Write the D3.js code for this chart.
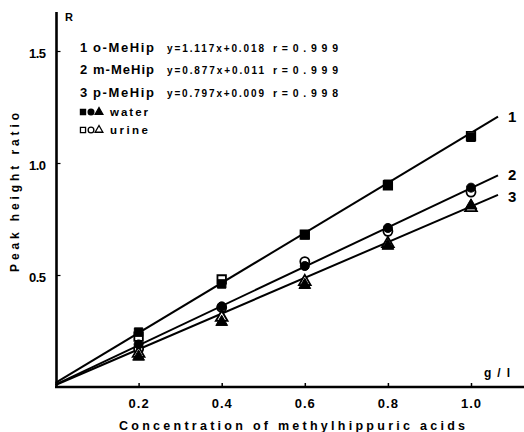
<!DOCTYPE html>
<html><head><meta charset="utf-8">
<script src="https://cdn.jsdelivr.net/npm/d3@7"></script>
<style>
html,body{margin:0;padding:0;background:#fff;}
svg{display:block;font-family:"Liberation Sans",Arial,sans-serif;font-weight:bold;}
</style></head>
<body><svg id="c" width="524" height="432"></svg>
<script>
// ---- data ----
const concentrations = [0.2, 0.4, 0.6, 0.8, 1.0];
const oWater = [0.245, 0.46, 0.68, 0.905, 1.115];
const oUrine = [0.225, 0.48, 0.68, 0.90, 1.12];
const mWater = [0.19, 0.36, 0.54, 0.71, 0.89];
const mUrine = [0.17, 0.355, 0.56, 0.695, 0.87];
const pWater = [0.135, 0.29, 0.455, 0.63, 0.81];
const pUrine = [0.15, 0.31, 0.47, 0.64, 0.80];
const fitStartY = [0.018, 0.011, 0.009];
const fitEndY = [1.207, 0.945, 0.858];
const fitX = [0, 1.065];
const lineLabels = ["1", "2", "3"];
const compounds = ["o-MeHip", "m-MeHip", "p-MeHip"];
const equations = ["y=1.117x+0.018", "y=0.877x+0.011", "y=0.797x+0.009"];
const rValues = ["r=0.999", "r=0.999", "r=0.998"];
const xTicks = [0.2, 0.4, 0.6, 0.8, 1.0];
const yTicks = [0.5, 1.0, 1.5];

const svg = d3.select("#c");
const x = d3.scaleLinear().domain([0, 1]).range([55.5, 471]);
const y = d3.scaleLinear().domain([0, 1.5]).range([387, 51]);

// axes
const xAxis = d3.axisBottom(x).tickValues(xTicks).tickSize(-4).tickPadding(12)
  .tickFormat(d3.format(".1f"));
const gx = svg.append("g").attr("transform", "translate(0,387)").call(xAxis);
gx.select(".domain").remove();
gx.selectAll(".tick line").attr("stroke", "#000").attr("stroke-width", 1.5);
gx.selectAll(".tick text").attr("font-size", 13).attr("font-weight", "bold")
  .attr("font-family", "Liberation Sans, Arial, sans-serif").attr("letter-spacing", 1).attr("fill", "#000");
svg.append("line").attr("x1", 55).attr("x2", 524).attr("y1", 387).attr("y2", 387)
  .attr("stroke", "#000").attr("stroke-width", 2.5);

const yAxis = d3.axisLeft(y).tickValues(yTicks).tickSize(-4).tickPadding(11)
  .tickFormat(d3.format(".1f"));
const gy = svg.append("g").attr("transform", "translate(56.5,0)").call(yAxis);
gy.select(".domain").remove();
gy.selectAll(".tick line").attr("stroke", "#000").attr("stroke-width", 1.2);
gy.selectAll(".tick text").attr("font-size", 13).attr("font-weight", "bold").attr("dy", "0.5em")
  .attr("font-family", "Liberation Sans, Arial, sans-serif").attr("letter-spacing", -0.5).attr("fill", "#000");
svg.append("line").attr("x1", 56.5).attr("x2", 56.5).attr("y1", 12).attr("y2", 388)
  .attr("stroke", "#000").attr("stroke-width", 2.6);

// axis titles
svg.append("text").attr("x", 119).attr("y", 430).attr("font-size", 12.5)
  .attr("textLength", 346).attr("lengthAdjust", "spacing")
  .text("Concentration of methylhippuric acids");
svg.append("text").attr("transform", "translate(19,272) rotate(-90)")
  .attr("font-size", 12).attr("textLength", 159).attr("lengthAdjust", "spacing")
  .text("Peak height ratio");
svg.append("text").attr("x", 65).attr("y", 21).attr("font-size", 11).text("R");
svg.append("text").attr("x", 484).attr("y", 377).attr("font-size", 12)
  .attr("textLength", 26).attr("lengthAdjust", "spacing").text("g/l");

// regression lines
const line = d3.line().x(d => x(d[0])).y(d => y(d[1]));
fitStartY.forEach((s, i) => {
  svg.append("path").attr("d", line([[fitX[0], s], [fitX[1], fitEndY[i]]]))
    .attr("fill", "none").attr("stroke", "#000").attr("stroke-width", 2);
  svg.append("text").attr("x", 508).attr("y", y(fitEndY[i]) + 5 + (i === 2 ? 2 : 0))
    .attr("font-size", 15).text(lineLabels[i]);
});

// markers
const shapes = [d3.symbolSquare, d3.symbolCircle, d3.symbolTriangle];
const sizes = [72, 64, 60];
const urineSets = [oUrine, mUrine, pUrine];
const waterSets = [oWater, mWater, pWater];
urineSets.forEach((vals, i) => {
  svg.append("g").selectAll("path").data(vals).join("path")
    .attr("d", d3.symbol(shapes[i], sizes[i]))
    .attr("transform", (d, j) => `translate(${x(concentrations[j])},${y(d)})`)
    .attr("fill", "#fff").attr("stroke", "#000").attr("stroke-width", 1.8);
});
waterSets.forEach((vals, i) => {
  svg.append("g").selectAll("path").data(vals).join("path")
    .attr("d", d3.symbol(shapes[i], sizes[i]))
    .attr("transform", (d, j) => `translate(${x(concentrations[j])},${y(d)})`)
    .attr("fill", "#000").attr("stroke", "#000").attr("stroke-width", 1);
});

// legend
const rowY = [51.5, 73.5, 96.5];
compounds.forEach((c, i) => {
  svg.append("text").attr("x", 80).attr("y", rowY[i]).attr("font-size", 13).text(lineLabels[i]);
  svg.append("text").attr("x", 93).attr("y", rowY[i]).attr("font-size", 13)
    .attr("textLength", 61).attr("lengthAdjust", "spacing").text(c);
  svg.append("text").attr("x", 167).attr("y", rowY[i]).attr("font-size", 10)
    .attr("textLength", 97).attr("lengthAdjust", "spacing").text(equations[i]);
  svg.append("text").attr("x", 273).attr("y", rowY[i]).attr("font-size", 10.5)
    .attr("textLength", 65).attr("lengthAdjust", "spacing").text(rValues[i]);
});
const legendRows = [{label: "water", fill: "#000", yy: 112}, {label: "urine", fill: "#fff", yy: 130}];
legendRows.forEach(r => {
  shapes.forEach((s, k) => {
    svg.append("path").attr("d", d3.symbol(s, 26))
      .attr("transform", `translate(${83 + k * 8},${r.yy})`)
      .attr("fill", r.fill).attr("stroke", "#000").attr("stroke-width", 1.3);
  });
  svg.append("text").attr("x", 110).attr("y", r.yy + 4).attr("font-size", 11.5)
    .attr("textLength", 38).attr("lengthAdjust", "spacing").text(r.label);
});
</script></body></html>
